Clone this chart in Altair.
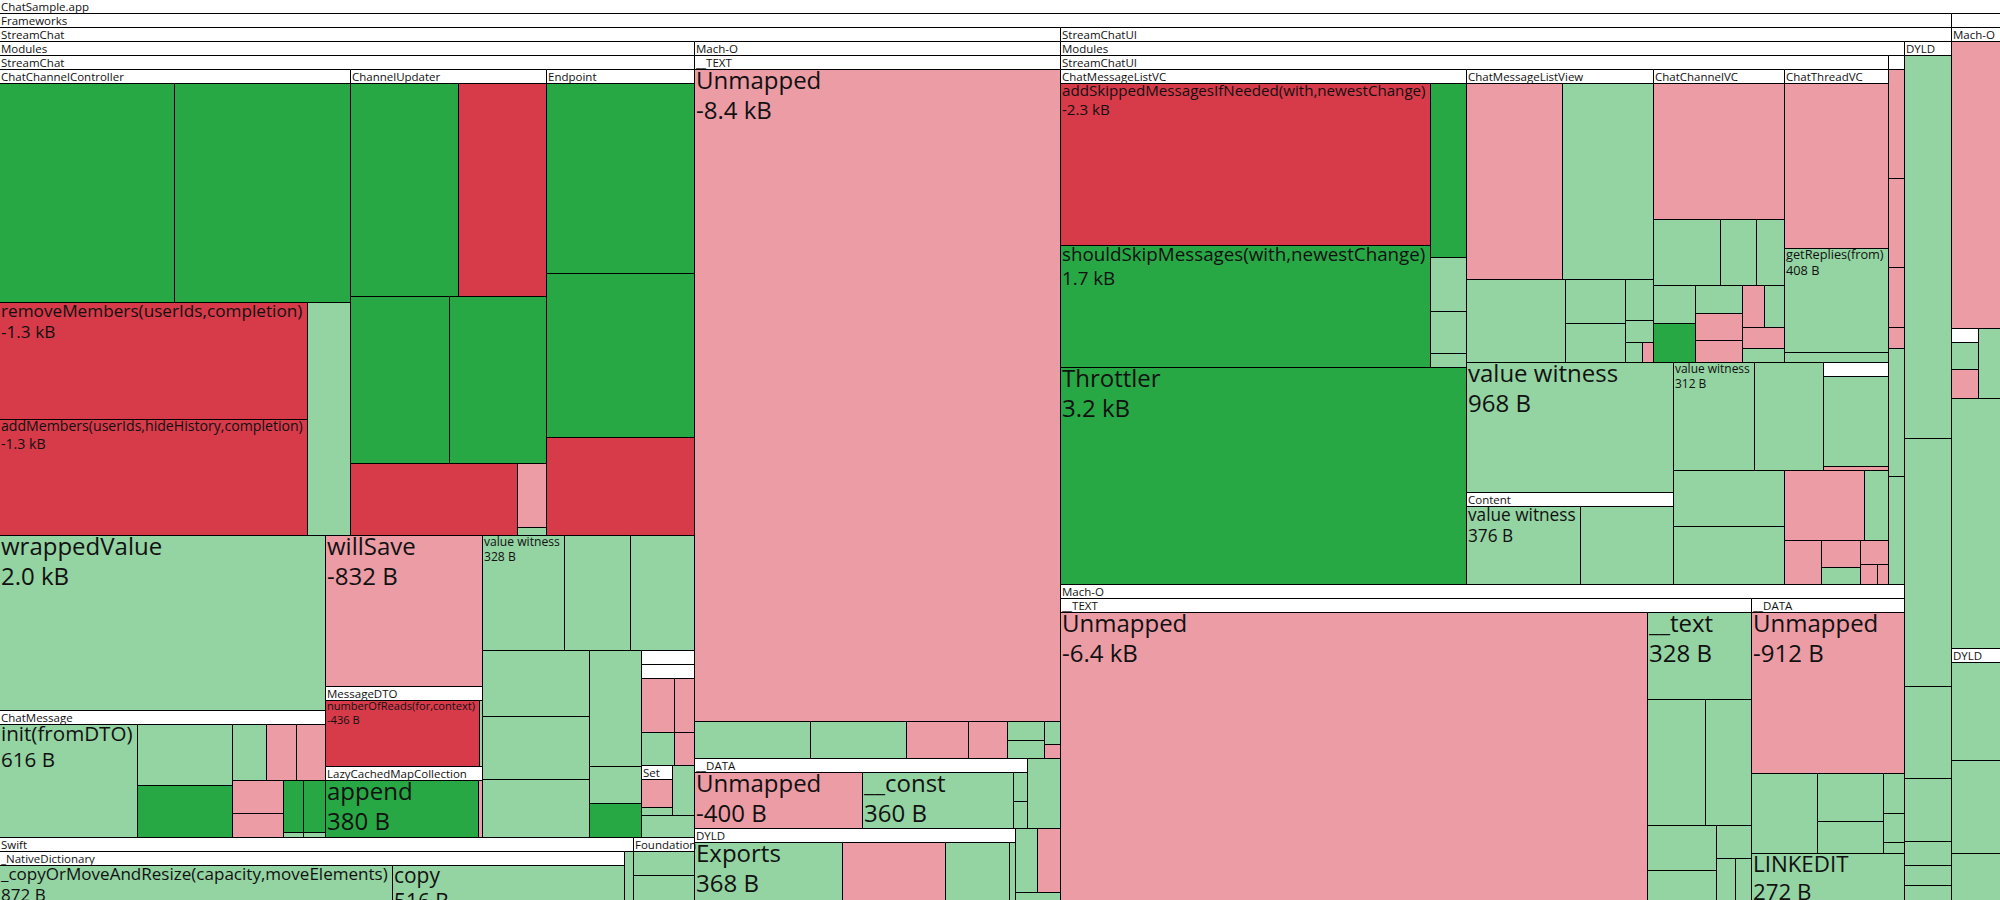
import altair as alt
import pandas as pd

# ---------------------------------------------------------------- data
# (id, parent, label, size change in bytes, kind)
# kind: N = group node, G = large increase, g = increase, R = large decrease, r = decrease
TOP_NODES = [
    ("app", None, "ChatSample.app", None, "N"),
    ("fw", "app", "Frameworks", None, "N"),
    ("cs", "app", "ChatSample", None, "N"),
    ("sc", "fw", "StreamChat", None, "N"),
    ("ui", "fw", "StreamChatUI", None, "N"),
]

STREAMCHAT_NODES = [
    ("sc_mod", "sc", "Modules", None, "N"),
    ("sc_macho", "sc", "Mach-O", None, "N"),
    ("scm", "sc_mod", "StreamChat", None, "N"),
    ("swift", "sc_mod", "Swift", None, "N"),
    ("found", "sc_mod", "Foundation", None, "N"),
    ("ccc", "scm", "ChatChannelController", None, "N"),
    ("cu", "scm", "ChannelUpdater", None, "N"),
    ("ep", "scm", "Endpoint", None, "N"),
    ("", "scm", "wrappedValue", 2000, "g"),
    ("cm", "scm", "ChatMessage", None, "N"),
    ("", "scm", "willSave", -832, "r"),
    ("mdto", "scm", "MessageDTO", None, "N"),
    ("lcmc", "scm", "LazyCachedMapCollection", None, "N"),
    ("", "scm", "value witness", 328, "g"),
    ("", "scm", "", 267, "g"), ("", "scm", "", 259, "g"),
    ("", "scm", "", 248, "g"), ("", "scm", "", 237, "g"), ("", "scm", "", 218, "g"),
    ("", "scm", "", 212, "g"), ("", "scm", "", 68, "g"), ("", "scm", "", 62, "G"),
    ("n1", "scm", "", None, "N"),
    ("set", "scm", "Set", None, "N"),
    ("", "scm", "", 38, "g"), ("", "scm", "", 41, "g"),
    ("", "ccc", "", 1389, "G"), ("", "ccc", "", 1397, "G"),
    ("", "ccc", "removeMembers(userIds,completion)", -1300, "R"),
    ("", "ccc", "addMembers(userIds,hideHistory,completion)", -1300, "R"),
    ("", "ccc", "", 363, "g"),
    ("", "cu", "", 833, "G"), ("", "cu", "", -679, "R"), ("", "cu", "", 599, "G"),
    ("", "cu", "", 587, "G"), ("", "cu", "", -436, "R"), ("", "cu", "", -67, "r"),
    ("", "cu", "", 8, "g"),
    ("", "ep", "", 1019, "G"), ("", "ep", "", 879, "G"), ("", "ep", "", -525, "R"),
    ("", "cm", "init(fromDTO)", 616, "g"),
    ("", "cm", "", 232, "g"), ("", "cm", "", 194, "G"),
    ("", "cm", "", 75, "g"), ("", "cm", "", -69, "r"), ("", "cm", "", -64, "r"),
    ("", "cm", "", -65, "r"), ("", "cm", "", -48, "r"),
    ("", "cm", "", 42, "G"), ("", "cm", "", 4, "g"),
    ("", "cm", "", 44, "G"), ("", "cm", "", 4, "g"),
    ("", "mdto", "numberOfReads(for,context)", -436, "R"), ("", "mdto", "", 11, "g"),
    ("", "lcmc", "append", 380, "G"), ("", "lcmc", "", -10, "r"),
    ("n2", "n1", "", None, "N"),
    ("", "n2", "", -81, "r"), ("", "n2", "", -51, "r"), ("", "n2", "", 50, "g"), ("", "n2", "", -31, "r"),
    ("", "set", "", -43, "r"), ("", "set", "", 11, "g"),
    ("nd", "swift", "_NativeDictionary", None, "N"),
    ("", "swift", "", 5904, "g"), ("", "swift", "", 105, "g"),
    ("", "nd", "_copyOrMoveAndResize(capacity,moveElements)", 872, "g"),
    ("", "nd", "copy", 516, "g"),
    ("", "found", "", 53, "g"), ("", "found", "", 66, "g"), ("", "found", "", 593, "g"),
    ("sc_text", "sc_macho", "__TEXT", None, "N"),
    ("sc_data", "sc_macho", "__DATA", None, "N"),
    ("", "sc_macho", "", 79, "g"),
    ("sc_dyld", "sc_macho", "DYLD", None, "N"),
    ("", "sc_macho", "", 49, "g"), ("", "sc_macho", "", -52, "r"),
    ("", "sc_macho", "", 47, "g"), ("", "sc_macho", "", 393, "g"),
    ("", "sc_text", "Unmapped", -8400, "r"),
    ("", "sc_text", "", 151, "g"), ("", "sc_text", "", 125, "g"),
    ("", "sc_text", "", -80, "r"), ("", "sc_text", "", -51, "r"),
    ("", "sc_text", "", 25, "g"), ("", "sc_text", "", 24, "g"),
    ("", "sc_text", "", 12, "g"), ("", "sc_text", "", -8, "r"),
    ("", "sc_data", "Unmapped", -400, "r"), ("", "sc_data", "__const", 360, "g"),
    ("", "sc_data", "", 17, "g"), ("", "sc_data", "", 16, "g"),
    ("", "sc_dyld", "Exports", 368, "g"), ("", "sc_dyld", "", -256, "r"),
    ("", "sc_dyld", "", 159, "g"), ("", "sc_dyld", "", 15, "g"), ("", "sc_dyld", "", 3046, "g"),
]

STREAMCHATUI_NODES = [
    ("ui_mod", "ui", "Modules", None, "N"),
    ("ui_macho", "ui", "Mach-O", None, "N"),
    ("ui_dyld", "ui", "DYLD", None, "N"),
    ("uim", "ui_mod", "StreamChatUI", None, "N"),
    ("ui_small", "ui_mod", "", None, "N"),
    ("", "ui_small", "", -63, "r"), ("", "ui_small", "", -51, "r"), ("", "ui_small", "", -35, "r"),
    ("", "ui_small", "", -12, "r"), ("", "ui_small", "", 74, "g"), ("", "ui_small", "", 62, "g"),
    ("cmlvc", "uim", "ChatMessageListVC", None, "N"),
    ("", "uim", "Throttler", 3160, "G"),
    ("cmlv", "uim", "ChatMessageListView", None, "N"),
    ("ccvc", "uim", "ChatChannelVC", None, "N"),
    ("ctvc", "uim", "ChatThreadVC", None, "N"),
    ("", "uim", "value witness", 968, "g"),
    ("content", "uim", "Content", None, "N"),
    ("", "uim", "value witness", 312, "g"),
    ("", "uim", "", 270, "g"),
    ("nx", "uim", "", None, "N"),
    ("", "uim", "", 222, "g"), ("", "uim", "", 227, "g"),
    ("", "uim", "", -203, "r"), ("", "uim", "", 60, "g"),
    ("", "uim", "", -58, "r"), ("", "uim", "", -37, "r"), ("", "uim", "", 24, "g"),
    ("", "uim", "", -23, "r"), ("", "uim", "", -12, "r"), ("", "uim", "", -8, "r"),
    ("", "cmlvc", "addSkippedMessagesIfNeeded(with,newestChange)", -2260, "R"),
    ("", "cmlvc", "shouldSkipMessages(with,newestChange)", 1700, "G"),
    ("", "cmlvc", "", 239, "G"), ("", "cmlvc", "", 74, "g"),
    ("", "cmlvc", "", 58, "g"), ("", "cmlvc", "", 19, "g"),
    ("", "cmlv", "", -714, "r"), ("", "cmlv", "", 670, "g"), ("", "cmlv", "", 310, "g"),
    ("", "cmlv", "", 100, "g"), ("", "cmlv", "", 88, "g"), ("", "cmlv", "", 43, "g"),
    ("", "cmlv", "", 23, "g"), ("", "cmlv", "", 13, "g"), ("", "cmlv", "", -8, "r"),
    ("", "ccvc", "", -673, "r"), ("", "ccvc", "", 167, "g"), ("", "ccvc", "", 90, "g"),
    ("", "ccvc", "", 70, "g"), ("", "ccvc", "", 60, "g"), ("", "ccvc", "", 61, "G"),
    ("", "ccvc", "", 50, "g"), ("", "ccvc", "", -48, "r"), ("", "ccvc", "", -40, "r"),
    ("", "ccvc", "", -35, "r"), ("", "ccvc", "", 32, "g"), ("", "ccvc", "", -33, "r"),
    ("", "ccvc", "", 22, "g"),
    ("", "ctvc", "", -644, "r"), ("", "ctvc", "getReplies(from)", 408, "g"), ("", "ctvc", "", 39, "g"),
    ("", "content", "value witness", 376, "g"), ("", "content", "", 308, "g"),
    ("", "nx", "", 242, "g"), ("", "nx", "", -11, "r"),
    ("ui_text", "ui_macho", "__TEXT", None, "N"),
    ("", "ui_macho", "", 6393, "g"),
    ("ui_data", "ui_macho", "__DATA", None, "N"),
    ("", "ui_macho", "LINKEDIT", 272, "g"),
    ("", "ui_macho", "", 1453, "g"),
    ("", "ui_text", "Unmapped", -6400, "r"), ("", "ui_text", "__text", 328, "g"),
    ("", "ui_text", "", 267, "g"), ("", "ui_text", "", 209, "g"),
    ("", "ui_text", "", 115, "g"), ("", "ui_text", "", 100, "g"),
    ("", "ui_text", "", 42, "g"), ("", "ui_text", "", 34, "g"), ("", "ui_text", "", 30, "g"),
    ("", "ui_data", "Unmapped", -912, "r"), ("", "ui_data", "", 197, "g"),
    ("", "ui_data", "", 118, "g"), ("", "ui_data", "", 77, "g"),
    ("", "ui_data", "", 31, "g"), ("", "ui_data", "", 23, "g"), ("", "ui_data", "", 8, "g"),
    ("", "ui_dyld", "", 621, "g"), ("", "ui_dyld", "", 402, "g"), ("", "ui_dyld", "", 149, "g"),
    ("", "ui_dyld", "", 102, "g"), ("", "ui_dyld", "", 39, "g"), ("", "ui_dyld", "", 32, "g"),
    ("", "ui_dyld", "", 470, "g"),
]

CHATSAMPLE_NODES = [
    ("cs_macho", "cs", "Mach-O", None, "N"),
    ("cs_dyld", "cs", "DYLD", None, "N"),
    ("", "cs_macho", "", -495, "r"),
    ("nz", "cs_macho", "", None, "N"),
    ("", "cs_macho", "", 55, "g"), ("", "cs_macho", "", 431, "g"),
    ("", "nz", "", 32, "g"), ("", "nz", "", -33, "r"),
    ("", "cs_dyld", "", 170, "g"), ("", "cs_dyld", "", 161, "g"),
    ("", "cs_dyld", "", 120, "g"), ("", "cs_dyld", "", 438, "g"),
]

# squarified tiling: rows of children in order (h = row across the top, v = column at the left)
TILING = {
    "app": "v1 v1", "fw": "v1 v1", "sc": "h2", "sc_mod": "h1 v1 v1",
    "scm": "h3 v2 v3 h3 v3 v3 h1 h2 h1", "ccc": "h2 v2 v1", "cu": "h2 h2 v1 h1 h1",
    "ep": "h1 h1 h1", "cm": "v1 v2 h3 v2 v2 v2", "mdto": "v1 v1", "lcmc": "v1 v1",
    "n1": "h1", "n2": "h2 v1 v1", "set": "h1 h1", "swift": "v2 v1", "nd": "v1 v1",
    "found": "h1 h1 h1", "sc_macho": "h1 h2 v1 h2 h1 h1",
    "sc_text": "h1 v1 v1 v1 v1 v2 v2", "sc_data": "v1 v1 v2", "sc_dyld": "h4 h1",
    "ui": "v2 v1", "ui_mod": "h2", "ui_small": "h1 h1 h1 h1 h1 h1",
    "uim": "v2 h3 v2 h3 v2 h2 v1 v2 h1 v1 v1", "cmlvc": "v2 v4",
    "cmlv": "h2 v1 v2 h1 h1 h2", "ccvc": "h1 h3 v2 v3 h2 h1 h1", "ctvc": "h1 h1 h1",
    "content": "v1 v1", "nx": "h1 h1", "ui_macho": "v2 v3",
    "ui_text": "v1 h1 h2 v2 h1 h2", "ui_data": "h1 v1 v2 v3",
    "ui_dyld": "h1 h1 h1 h1 h1 h1 h1", "cs": "h1 h1", "cs_macho": "h1 h2 h1",
    "nz": "h1 h1", "cs_dyld": "h1 h1 h1 h1",
}

# ---------------------------------------------------------------- styling
W, H, VIEW_H, HEADER = 2000, 1175, 900, 14
COLORS = {"N": "#ffffff", "G": "#28a745", "g": "#94d3a2", "R": "#d73a49", "r": "#eb9ca5"}
FONT = "Open Sans"
CW = {" ": .26, "a": .556, "b": .613, "c": .48, "d": .613, "e": .561, "f": .336, "g": .547,
      "h": .613, "i": .258, "j": .258, "k": .518, "l": .258, "m": .93, "n": .613, "o": .604,
      "p": .613, "q": .613, "r": .408, "s": .477, "t": .353, "u": .613, "v": .501, "w": .778,
      "x": .524, "y": .501, "z": .462, "A": .633, "B": .647, "C": .631, "D": .729, "E": .556,
      "F": .516, "G": .728, "H": .738, "I": .279, "J": .267, "K": .614, "L": .519, "M": .903,
      "N": .754, "O": .779, "P": .602, "Q": .779, "R": .618, "S": .549, "T": .553, "U": .729,
      "V": .595, "W": .925, "X": .577, "Y": .56, "Z": .571, "(": .296, ")": .296, ",": .245,
      ".": .266, "-": .322, "_": .41}


def em(s):
    return sum(CW.get(ch, .572) for ch in s)


def fmt(v):
    sign = "-" if v < 0 else ""
    a = abs(v)
    return f"{sign}{a / 1000:.1f} kB" if a >= 1000 else f"{sign}{a} B"


# ---------------------------------------------------------------- build tree
info, children = {}, {}
auto = 0
for nid, parent, name, val, kind in TOP_NODES + STREAMCHAT_NODES + STREAMCHATUI_NODES + CHATSAMPLE_NODES:
    if not nid:
        auto += 1
        nid = f"leaf{auto}"
    info[nid] = {"name": name, "val": val, "kind": kind}
    if parent:
        children.setdefault(parent, []).append(nid)

size = {}


def total(n):
    if info[n]["kind"] != "N":
        size[n] = abs(info[n]["val"])
    else:
        size[n] = sum(total(c) for c in children.get(n, []))
    return size[n]


total("app")

rects = []


def place(n, x0, y0, x1, y1):
    rects.append((n, x0, y0, x1, y1))
    kids = children.get(n)
    if not kids:
        return
    cx0, cy0, cx1, cy1 = x0, y0 + HEADER, x1, y1
    remaining = size[n]
    i = 0
    for tok in TILING[n].split():
        k = int(tok[1:])
        row = kids[i:i + k]
        i += k
        rv = sum(size[c] for c in row)
        if tok[0] == "h":
            hh = (cy1 - cy0) * rv / remaining
            xx = cx0
            for c in row:
                ww = (cx1 - cx0) * size[c] / rv
                place(c, xx, cy0, xx + ww, cy0 + hh)
                xx += ww
            cy0 += hh
        else:
            ww = (cx1 - cx0) * rv / remaining
            yy = cy0
            for c in row:
                hh = (cy1 - cy0) * size[c] / rv
                place(c, cx0, yy, cx0 + ww, yy + hh)
                yy += hh
            cx0 += ww
        remaining -= rv


place("app", -1, -1, W + 1, H)

rect_rows, head_rows, leaf_rows = [], [], []
for n, x0, y0, x1, y1 in rects:
    if y0 >= VIEW_H + 2:
        continue
    px0, py0 = round(x0) + 0.5, round(y0) + 0.5
    px1, py1 = round(x1) + 0.5, round(y1) + 0.5
    d = info[n]
    rect_rows.append({"x0": px0, "x1": px1, "y0": py0, "y1": py1, "color": COLORS[d["kind"]]})
    w, h = px1 - px0, py1 - py0
    if d["kind"] == "N":
        if d["name"] and em(d["name"]) * 11.5 <= w + 4:
            head_rows.append({"x": px0 + 1.5, "y": py0 + 11, "label": d["name"], "fs": 11.5})
    elif d["name"]:
        fs = min(24, (w - 6) / em(d["name"]), (h - 3) / 2.15)
        if fs >= 7:
            leaf_rows.append({"x": px0 + 1.5, "y": py0 + 0.8 * fs + 0.5, "label": d["name"], "fs": fs})
            leaf_rows.append({"x": px0 + 1.5, "y": py0 + 2.05 * fs + 0.5, "label": fmt(d["val"]), "fs": fs})

xs = alt.Scale(domain=[0, W], nice=False, zero=False)
ys = alt.Scale(domain=[0, VIEW_H], nice=False, zero=False, reverse=True)

boxes = alt.Chart(pd.DataFrame(rect_rows)).mark_rect(
    stroke="#000000", strokeWidth=1, clip=True
).encode(
    x=alt.X("x0:Q", scale=xs, axis=None),
    x2="x1:Q",
    y=alt.Y("y0:Q", scale=ys, axis=None),
    y2="y1:Q",
    fill=alt.Fill("color:N", scale=None),
)

labels = alt.Chart(pd.DataFrame(head_rows + leaf_rows)).mark_text(
    align="left", baseline="alphabetic", font=FONT, color="#111111", clip=True
).encode(
    x=alt.X("x:Q", scale=xs, axis=None),
    y=alt.Y("y:Q", scale=ys, axis=None),
    text="label:N",
    size=alt.Size("fs:Q", scale=None),
)

chart = alt.layer(boxes, labels).properties(
    width=W, height=VIEW_H, padding=0
).configure_view(stroke=None)

chart.save("out.html", embed_options={"renderer": "svg", "actions": False})
